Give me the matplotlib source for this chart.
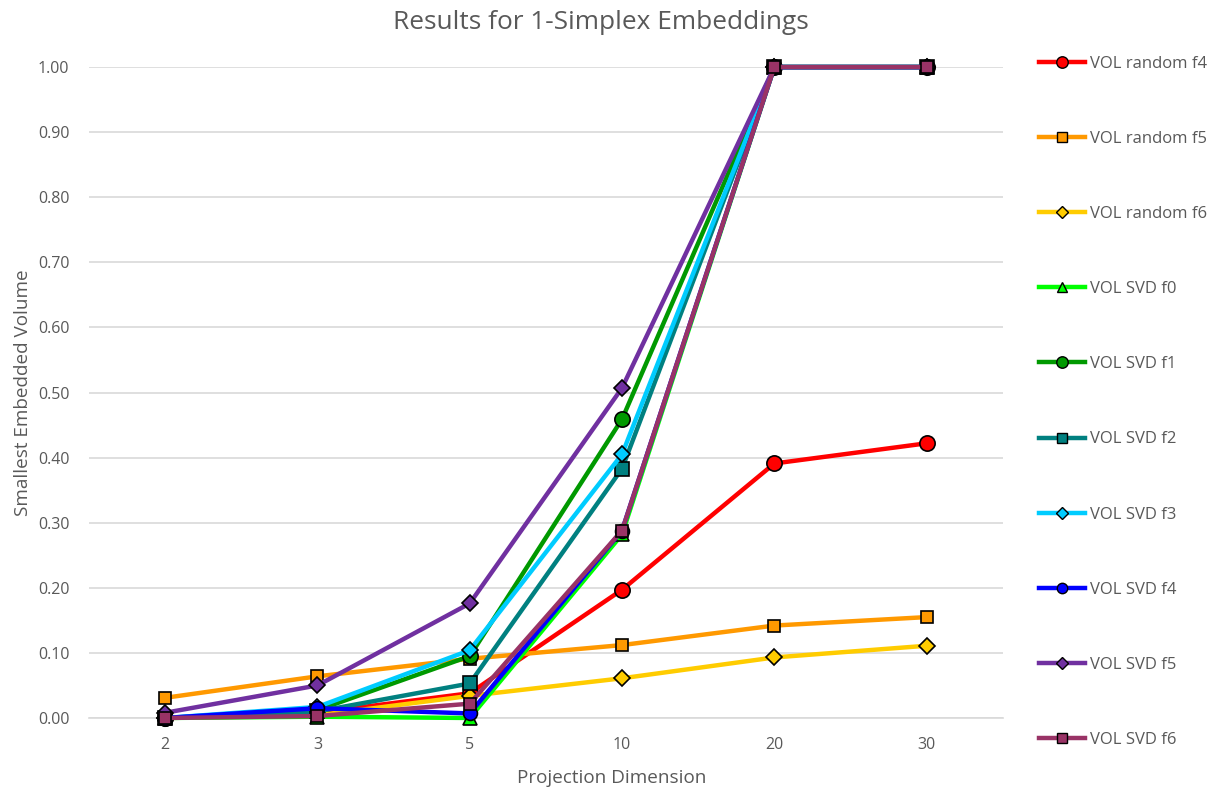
"""Smallest embedded volume for 1-simplex embeddings."""

import matplotlib
matplotlib.use("Agg")
import matplotlib.pyplot as plt
from matplotlib.lines import Line2D

dims = ["2", "3", "5", "10", "20", "30"]

vol_random_f4 = [0.000, 0.008, 0.038, 0.197, 0.391, 0.422]
vol_random_f5 = [0.031, 0.064, 0.091, 0.112, 0.142, 0.155]
vol_random_f6 = [0.000, 0.004, 0.034, 0.061, 0.093, 0.111]
vol_svd_f0 = [0.000, 0.002, 0.000, 0.282, 1.000, 1.000]
vol_svd_f1 = [0.000, 0.012, 0.095, 0.459, 1.000, 1.000]
vol_svd_f2 = [0.000, 0.010, 0.053, 0.383, 1.000, 1.000]
vol_svd_f3 = [0.000, 0.017, 0.104, 0.405, 1.000, 1.000]
vol_svd_f4 = [0.000, 0.015, 0.007, 0.288, 1.000, 1.000]
vol_svd_f5 = [0.008, 0.050, 0.176, 0.507, 1.000, 1.000]
vol_svd_f6 = [0.000, 0.003, 0.022, 0.288, 1.000, 1.000]

series = [
    ("VOL random f4", vol_random_f4, "#FF0000", "o", 11),
    ("VOL random f5", vol_random_f5, "#FF9900", "s", 9),
    ("VOL random f6", vol_random_f6, "#FFCC00", "D", 8),
    ("VOL SVD f0", vol_svd_f0, "#00FF00", "^", 10),
    ("VOL SVD f1", vol_svd_f1, "#009900", "o", 11),
    ("VOL SVD f2", vol_svd_f2, "#008080", "s", 10),
    ("VOL SVD f3", vol_svd_f3, "#00CCFF", "D", 8),
    ("VOL SVD f4", vol_svd_f4, "#0000FF", "o", 10),
    ("VOL SVD f5", vol_svd_f5, "#7030A0", "D", 8),
    ("VOL SVD f6", vol_svd_f6, "#993366", "s", 9),
]

plt.rcParams["font.family"] = ["Open Sans", "DejaVu Sans"]
text_color = "#595959"

fig = plt.figure(figsize=(12.14, 7.89), dpi=100)
ax = fig.add_axes([0.0733, 0.090, 0.7527, 0.825])

x = list(range(len(dims)))
handles = []
for label, vals, color, marker, ms in series:
    ax.plot(x, vals, color=color, linewidth=3.2, marker=marker, markersize=ms,
            markerfacecolor=color, markeredgecolor="black", markeredgewidth=1.2,
            clip_on=False, zorder=3)
    handles.append(Line2D([], [], color=color, linewidth=3.2, marker=marker,
                          markersize=ms * 0.75, markerfacecolor=color,
                          markeredgecolor="black", markeredgewidth=1.0))

ax.set_xlim(-0.5, len(dims) - 0.5)
ax.set_ylim(0, 1.0)
ax.set_xticks(x)
ax.set_xticklabels(dims)
ax.set_yticks([i / 10 for i in range(11)])
ax.set_yticklabels([f"{i / 10:.2f}" for i in range(11)])
ax.tick_params(axis="both", length=0, labelsize=11.5, colors=text_color)
ax.tick_params(axis="x", pad=14)
ax.tick_params(axis="y", pad=14)
ax.grid(axis="y", color="#D9D9D9", linewidth=1.2)
ax.set_axisbelow(True)
for side in ["top", "right", "left"]:
    ax.spines[side].set_visible(False)
ax.spines["bottom"].set_color("#D9D9D9")
ax.spines["bottom"].set_linewidth(1.2)

ax.set_xlabel("Projection Dimension", fontsize=13.6, color=text_color)
ax.xaxis.set_label_coords(0.572, -0.078)
ax.set_ylabel("Smallest Embedded Volume", fontsize=13.6, color=text_color, labelpad=4)
fig.text(0.495, 0.972, "Results for 1-Simplex Embeddings", ha="center", va="center",
         fontsize=18.9, color=text_color)

fig.legend(handles, [s[0] for s in series], loc="upper left",
           bbox_to_anchor=(0.85, 0.938), frameon=False, fontsize=12,
           labelcolor=text_color, handlelength=2.8, handletextpad=0.3,
           labelspacing=3.55, borderaxespad=0)

fig.savefig("out.png", dpi=100)
